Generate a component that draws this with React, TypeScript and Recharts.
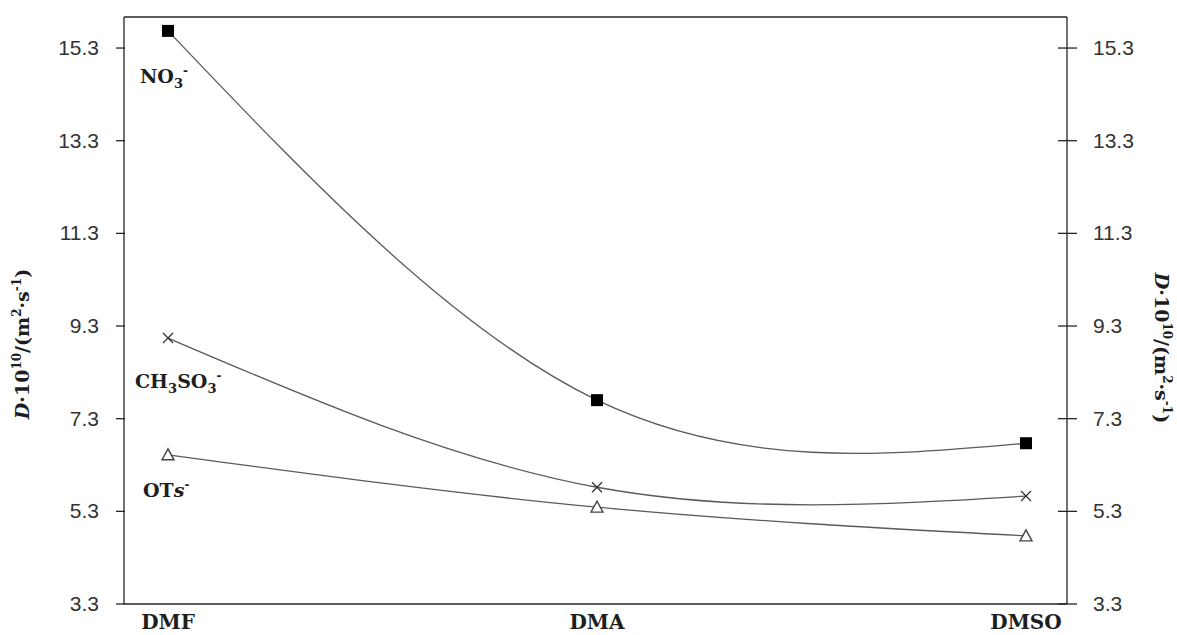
import { LineChart, Line, XAxis, YAxis, ReferenceLine } from 'recharts';

// diffusion coefficients D·10^10 (m²/s) per solvent
const solvents = ['DMF', 'DMA', 'DMSO'];
const no3 = [15.67, 7.7, 6.77];
const ch3so3 = [9.04, 5.82, 5.63];
const ots = [6.52, 5.39, 4.77];
const yTicks = [3.3, 5.3, 7.3, 9.3, 11.3, 13.3, 15.3];
const yMin = 3.3;
const yMax = 15.97;

const data = solvents.map((s, i) => ({ solvent: s, no3: no3[i], ch3so3: ch3so3[i], ots: ots[i] }));

const AXIS = '#262626';
const LINE = '#5a5a5a';
const serif = '"DejaVu Serif", "Liberation Serif", serif';
const sans = '"Liberation Sans", Arial, sans-serif';

const LeftTick = (props: any) => {
    const { x, y, payload } = props;
    return (
        <g>
            <line x1={x - 8} y1={y} x2={x + 1} y2={y} stroke={AXIS} strokeWidth={1.3} />
            <text x={x - 25} y={y} dy={7} textAnchor="end" fontFamily={sans} fontSize={21} fill="#333">
                {payload.value.toFixed(1)}
            </text>
        </g>
    );
};

const RightTick = (props: any) => {
    const { x, y, payload } = props;
    return (
        <g>
            <line x1={x - 9} y1={y} x2={x + 10} y2={y} stroke={AXIS} strokeWidth={1.3} />
            <text x={x + 26} y={y} dy={7} textAnchor="start" fontFamily={sans} fontSize={21} fill="#333">
                {payload.value.toFixed(1)}
            </text>
        </g>
    );
};

const CatTick = (props: any) => {
    const { x, y, payload } = props;
    return (
        <text x={x} y={y + 23} textAnchor="middle" fontFamily={serif} fontWeight="bold" fontSize={20} fill="#1e1e1e">
            {payload.value}
        </text>
    );
};

const AxisTitle = ({ cx, cy, angle }: { cx: number; cy: number; angle: number }) => (
    <text
        x={cx}
        y={cy}
        transform={`rotate(${angle} ${cx} ${cy})`}
        textAnchor="middle"
        dominantBaseline="middle"
        fontFamily={serif}
        fontWeight="bold"
        fontSize={19}
        fill="#1e1e1e"
    >
        <tspan fontStyle="italic">D</tspan>
        <tspan>·10</tspan>
        <tspan fontSize={12} dy={-7}>10</tspan>
        <tspan dy={7}>/(m</tspan>
        <tspan fontSize={12} dy={-7}>2</tspan>
        <tspan dy={7}>·s</tspan>
        <tspan fontSize={12} dy={-7}>-1</tspan>
        <tspan dy={7}>)</tspan>
    </text>
);

const Square = (props: any) => {
    const { cx, cy, index } = props;
    return <rect key={`sq-${index}`} x={cx - 6} y={cy - 6} width={12} height={12} fill="#000" />;
};

const Cross = (props: any) => {
    const { cx, cy, index } = props;
    return (
        <g key={`cr-${index}`}>
            <line x1={cx - 5} y1={cy - 5} x2={cx + 5} y2={cy + 5} stroke="#333" strokeWidth={1.3} />
            <line x1={cx - 5} y1={cy + 5} x2={cx + 5} y2={cy - 5} stroke="#333" strokeWidth={1.3} />
        </g>
    );
};

const Triangle = (props: any) => {
    const { cx, cy, index } = props;
    return (
        <polygon
            key={`tr-${index}`}
            points={`${cx},${cy - 6} ${cx - 6},${cy + 5} ${cx + 6},${cy + 5}`}
            fill="#fff"
            stroke="#444"
            strokeWidth={1.4}
        />
    );
};

const labelStyle = { fontFamily: serif, fontWeight: 'bold' as const, fontSize: 19, fill: '#1e1e1e' };

const no3Label = (props: any) => {
    if (props.index !== 0) return null;
    const { x, y } = props;
    return (
        <text x={x - 28} y={y + 52} {...labelStyle}>
            NO<tspan fontSize={13} dy={5}>3</tspan>
            <tspan fontSize={12} dy={-13}>-</tspan>
        </text>
    );
};

const ch3so3Label = (props: any) => {
    if (props.index !== 0) return null;
    const { x, y } = props;
    return (
        <text x={x - 33} y={y + 50} {...labelStyle}>
            CH<tspan fontSize={13} dy={5}>3</tspan>
            <tspan dy={-5}>SO</tspan>
            <tspan fontSize={13} dy={5}>3</tspan>
            <tspan fontSize={12} dy={-13}>-</tspan>
        </text>
    );
};

const otsLabel = (props: any) => {
    if (props.index !== 0) return null;
    const { x, y } = props;
    return (
        <text x={x - 25} y={y + 42} {...labelStyle}>
            OT<tspan fontStyle="italic">s</tspan>
            <tspan fontSize={12} dy={-8}>-</tspan>
        </text>
    );
};

const App = () => {
    return (
        <div style={{ position: 'absolute', left: 0, top: 0, width: 1177, height: 635, background: '#fff' }}>
            <LineChart width={1177} height={635} data={data} margin={{ top: 17, right: 0, left: 0, bottom: 0 }}>
                <XAxis
                    dataKey="solvent"
                    padding={{ left: 44, right: 41 }}
                    height={31}
                    tickLine={false}
                    tickSize={0}
                    axisLine={{ stroke: AXIS, strokeWidth: 1.3 }}
                    tick={<CatTick />}
                    interval={0}
                />
                <YAxis
                    yAxisId="left"
                    orientation="left"
                    width={124}
                    domain={[yMin, yMax]}
                    ticks={yTicks}
                    allowDataOverflow
                    tickLine={false}
                    tickSize={0}
                    tickMargin={0}
                    axisLine={{ stroke: AXIS, strokeWidth: 1.3 }}
                    tick={<LeftTick />}
                    label={() => <AxisTitle cx={24} cy={344} angle={-90} />}
                />
                <YAxis
                    yAxisId="right"
                    orientation="right"
                    width={110}
                    domain={[yMin, yMax]}
                    ticks={yTicks}
                    allowDataOverflow
                    tickLine={false}
                    tickSize={0}
                    tickMargin={0}
                    axisLine={{ stroke: AXIS, strokeWidth: 1.3 }}
                    tick={<RightTick />}
                    label={() => <AxisTitle cx={1160} cy={348} angle={90} />}
                />
                <ReferenceLine yAxisId="left" y={yMax} stroke={AXIS} strokeWidth={1.3} />
                <Line
                    yAxisId="left"
                    type="natural"
                    dataKey="no3"
                    stroke={LINE}
                    strokeWidth={1.3}
                    dot={Square}
                    activeDot={false}
                    label={no3Label}
                    isAnimationActive={false}
                />
                <Line
                    yAxisId="left"
                    type="natural"
                    dataKey="ch3so3"
                    stroke={LINE}
                    strokeWidth={1.3}
                    dot={Cross}
                    activeDot={false}
                    label={ch3so3Label}
                    isAnimationActive={false}
                />
                <Line
                    yAxisId="left"
                    type="natural"
                    dataKey="ots"
                    stroke={LINE}
                    strokeWidth={1.3}
                    dot={Triangle}
                    activeDot={false}
                    label={otsLabel}
                    isAnimationActive={false}
                />
            </LineChart>
        </div>
    );
};

export default App;
